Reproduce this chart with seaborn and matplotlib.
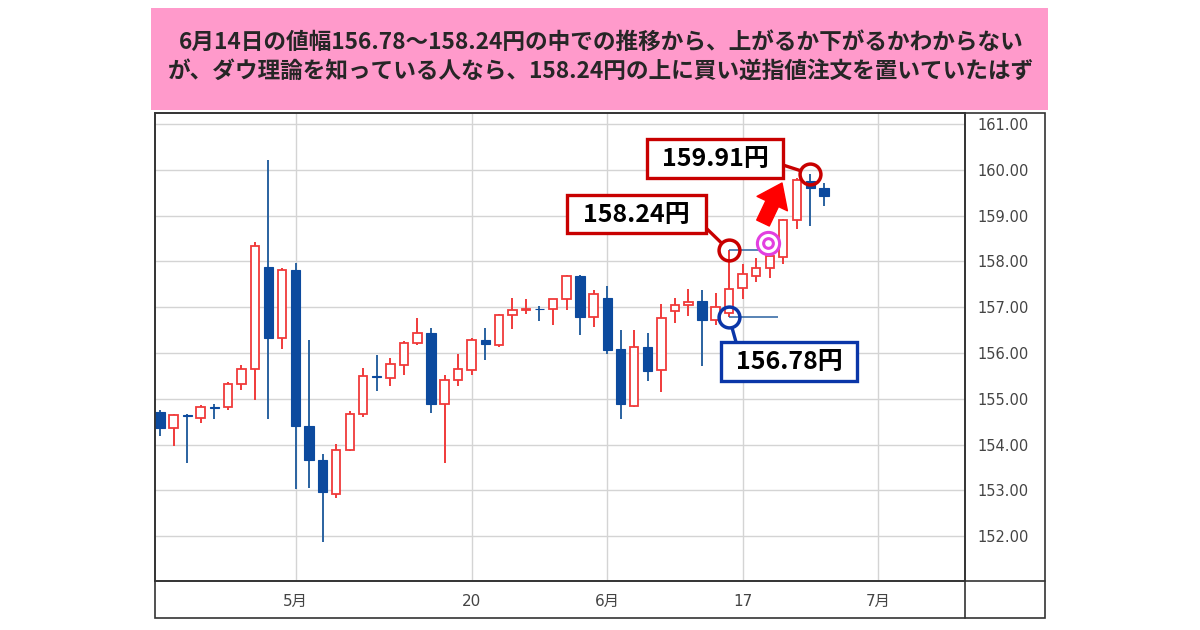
import matplotlib
matplotlib.use('Agg')
import matplotlib.pyplot as plt
from matplotlib.patches import Rectangle
from matplotlib.lines import Line2D
import seaborn as sns
import pandas as pd

# daily candles, mid April -> end of June
opens = [154.71, 154.36, 154.65, 154.57, 154.82, 154.81, 155.33, 155.64, 157.88, 156.33,
         157.82, 154.40, 153.67, 152.91, 153.87, 154.66, 155.49, 155.46, 155.73, 156.21,
         156.44, 154.88, 155.40, 155.62, 156.28, 156.17, 156.82, 156.94, 156.96, 156.95,
         157.18, 157.69, 156.79, 157.20, 156.08, 154.85, 156.13, 155.62, 156.91, 157.04,
         157.13, 156.73, 156.88, 157.42, 157.67, 157.85, 158.10, 158.91, 159.75, 159.60]
highs = [154.75, 154.67, 154.67, 154.87, 154.89, 155.37, 155.73, 158.43, 160.22, 157.85,
         157.96, 156.28, 153.80, 154.01, 154.74, 155.68, 155.95, 155.89, 156.26, 156.77,
         156.55, 155.52, 155.98, 156.32, 156.55, 156.85, 157.20, 157.17, 157.02, 157.18,
         157.71, 157.70, 157.37, 157.47, 156.50, 156.50, 156.44, 157.06, 157.20, 157.40,
         157.37, 157.31, 158.24, 157.95, 158.07, 158.18, 158.93, 159.82, 159.91, 159.71]
lows = [154.18, 153.96, 153.60, 154.47, 154.56, 154.76, 155.20, 154.97, 154.55, 156.09,
        153.02, 153.05, 151.88, 152.84, 153.85, 154.61, 155.18, 155.28, 155.51, 156.18,
        154.69, 153.60, 155.28, 155.52, 155.84, 156.13, 156.53, 156.84, 156.69, 156.61,
        156.93, 156.39, 156.57, 155.97, 154.56, 154.82, 155.39, 155.15, 156.66, 156.80,
        155.71, 156.61, 156.78, 157.18, 157.56, 157.64, 157.95, 158.71, 158.78, 159.21]
closes = [154.36, 154.64, 154.63, 154.81, 154.80, 155.33, 155.64, 158.33, 156.33, 157.82,
          154.40, 153.67, 152.97, 153.89, 154.67, 155.49, 155.48, 155.76, 156.22, 156.43,
          154.88, 155.40, 155.64, 156.28, 156.19, 156.82, 156.93, 156.96, 156.95, 157.18,
          157.69, 156.79, 157.29, 156.06, 154.88, 156.13, 155.60, 156.76, 157.04, 157.12,
          156.73, 157.00, 157.40, 157.72, 157.85, 158.11, 158.91, 159.78, 159.60, 159.42]

xtick_pos = [10, 23, 33, 43, 53]
xtick_labels = ['5月', '20', '6月', '17', '7月']
ytick_vals = [152, 153, 154, 155, 156, 157, 158, 159, 160, 161]

title_lines = ['6月14日の値幅156.78～158.24円の中での推移から、上がるか下がるかわからない',
               'が、ダウ理論を知っている人なら、158.24円の上に買い逆指値注文を置いていたはず']

range_day = 42          # June 14
range_low = 156.78
range_high = 158.24
peak_day = 48
peak_high = 159.91
break_day = 44.85
break_price = 158.40

RED = '#f03a3a'
BLUE = '#0c4a9e'
BLUE_WICK = '#2a62a0'
DARKRED = '#c80000'
DARKBLUE = '#0a36a8'
PINK = '#e23fe0'

W, H = 1200, 630

def fx(x):
    return x / W

def fy(y):
    return 1 - y / H

sns.set_theme(style='white')
plt.rcParams['font.family'] = ['DejaVu Sans', 'Noto Sans CJK JP']
jp = ['Noto Sans CJK JP', 'DejaVu Sans']

df = pd.DataFrame({'open': opens, 'high': highs, 'low': lows, 'close': closes})
df['x'] = range(len(df))
df['up'] = df['close'] >= df['open']
up = df[df['up']]
dn = df[~df['up']]

fig = plt.figure(figsize=(12, 6.3), dpi=100)
ax = fig.add_axes([fx(155), fy(581), fx(810), 468 / H])

# candles
ax.vlines(up['x'], up['low'], up['high'], color=RED, lw=1.4, zorder=2)
ax.vlines(dn['x'], dn['low'], dn['high'], color=BLUE_WICK, lw=1.4, zorder=2)
ax.bar(up['x'], (up['close'] - up['open']).clip(lower=0.02), bottom=up['open'], width=0.62,
       facecolor='white', edgecolor=RED, lw=1.3, zorder=3)
ax.bar(dn['x'], (dn['open'] - dn['close']).clip(lower=0.02), bottom=dn['close'], width=0.68,
       color=BLUE, edgecolor=BLUE, lw=0.8, zorder=3)

ax.set_xlim(-0.37, 59.41)
ax.set_ylim(151.02, 161.24)
ax.set_xticks(xtick_pos)
ax.set_xticklabels(xtick_labels)
ax.set_yticks(ytick_vals)
ax.set_yticklabels([f'{v:.2f}' for v in ytick_vals])
ax.yaxis.tick_right()
ax.tick_params(axis='y', length=0, pad=8.6, labelsize=10.5, labelcolor='#444444')
ax.tick_params(axis='x', length=0, pad=9, labelsize=11, labelcolor='#444444')
ax.grid(True, color='#d4d4d4', lw=1)
ax.set_axisbelow(True)
for s in ax.spines.values():
    s.set_color('#333333')
    s.set_linewidth(1.2)

# level lines and markers
ax.hlines([range_high, range_low], range_day, range_day + 3.6, color=BLUE_WICK, lw=1.1, zorder=4)
ax.plot([range_day], [range_high], 'o', ms=15, mfc='none', mec=DARKRED, mew=2.5, zorder=6)
ax.plot([peak_day], [peak_high], 'o', ms=15, mfc='none', mec=DARKRED, mew=2.5, zorder=6)
ax.plot([range_day], [range_low], 'o', ms=15, mfc='none', mec=DARKBLUE, mew=2.5, zorder=6)
ax.plot([break_day], [break_price], 'o', ms=16, mfc='white', mec=PINK, mew=2.2, zorder=6)
ax.plot([break_day], [break_price], 'o', ms=7, mfc='none', mec=PINK, mew=2.2, zorder=7)

# callout boxes (figure pixels, y from top)
boxes = [((567, 195, 706, 233), f'{range_high:.2f}円', DARKRED, (706, 228), (range_day, range_high)),
         ((647, 139, 783, 178), f'{peak_high:.2f}円', DARKRED, (783, 165), (peak_day, peak_high)),
         ((721, 342, 857, 381), f'{range_low:.2f}円', DARKBLUE, (736, 342), (range_day, range_low))]
for (x0, y0, x1, y1), label, col, start, target in boxes:
    ax.annotate('', xy=target, xytext=(start[0], H - start[1]), textcoords='figure pixels',
                arrowprops=dict(arrowstyle='-', color=col, lw=2.4, shrinkA=0, shrinkB=8), zorder=5)
    fig.add_artist(Rectangle((fx(x0), fy(y1)), fx(x1 - x0), (y1 - y0) / H, transform=fig.transFigure,
                             facecolor='white', edgecolor=col, lw=2.4, zorder=8))
    fig.text(fx((x0 + x1) / 2), fy((y0 + y1) / 2 + 1), label, ha='center', va='center',
             fontsize=18, fontweight='bold', color='black', family=jp, zorder=9)

# up arrow
ax.annotate('', xy=(782, H - 183), xycoords='figure pixels', xytext=(763, H - 223),
            textcoords='figure pixels',
            arrowprops=dict(arrowstyle='simple,head_length=0.82,head_width=1.21,tail_width=0.5',
                            mutation_scale=20, color='#ff0000', shrinkA=0, shrinkB=0), zorder=6)

# outer frame with label bands
fig.add_artist(Rectangle((fx(155), fy(618)), fx(890), 505 / H, transform=fig.transFigure,
                         fill=False, edgecolor='#333333', lw=1.2, zorder=4))
fig.add_artist(Line2D([fx(965), fx(965)], [fy(113), fy(618)], transform=fig.transFigure,
                      color='#333333', lw=1.2, zorder=4))
fig.add_artist(Line2D([fx(155), fx(1045)], [fy(581), fy(581)], transform=fig.transFigure,
                      color='#333333', lw=1.2, zorder=4))

# pink title panel
fig.add_artist(Rectangle((fx(151), fy(110)), fx(897), 102 / H, transform=fig.transFigure,
                         facecolor='#ff9acb', edgecolor='none', zorder=1))
fig.text(fx(601), fy(42), title_lines[0], ha='center', va='center', fontsize=16.3,
         fontweight='bold', family=jp, zorder=2)
fig.text(fx(601), fy(71), title_lines[1], ha='center', va='center', fontsize=16.3,
         fontweight='bold', family=jp, zorder=2)

fig.savefig('out.png', dpi=100)
